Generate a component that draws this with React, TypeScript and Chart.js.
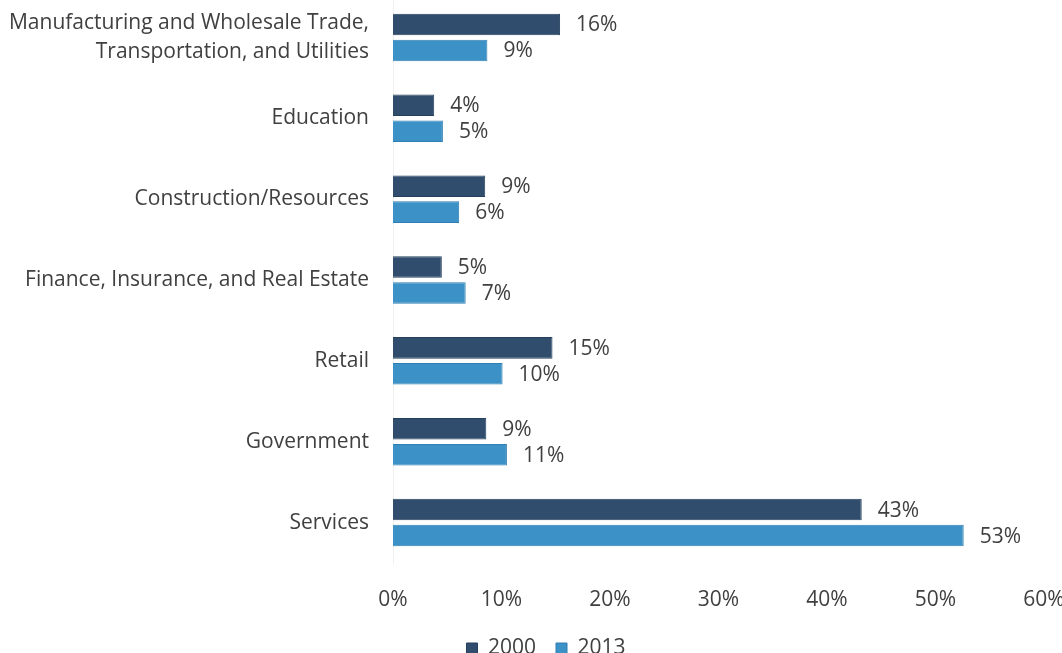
import React, { useEffect, useRef } from "react";
import { Chart, registerables } from "chart.js";

Chart.register(...registerables);

const categories: (string | string[])[] = [
  ["Manufacturing and Wholesale Trade,", "Transportation, and Utilities"],
  "Education",
  "Construction/Resources",
  "Finance, Insurance, and Real Estate",
  "Retail",
  "Government",
  "Services",
];
const seriesNames = ["2000", "2013"];
const values2000 = [15.4, 3.8, 8.5, 4.5, 14.7, 8.6, 43.2];
const values2013 = [8.7, 4.6, 6.1, 6.7, 10.1, 10.5, 52.6];
const labels2000 = ["16%", "4%", "9%", "5%", "15%", "9%", "43%"];
const labels2013 = ["9%", "5%", "6%", "7%", "10%", "11%", "53%"];
const xTicks = [0, 10, 20, 30, 40, 50, 60];

const FONT = "'Open Sans', 'Noto Sans', sans-serif";
const TEXT = "#404040";

export default function App() {
  const ref = useRef<HTMLCanvasElement>(null);
  useEffect(() => {
    const canvas = ref.current!;
    const labelSets = [labels2000, labels2013];
    const dataLabels = {
      id: "dataLabels",
      afterDatasetsDraw(chart: any) {
        const ctx = chart.ctx;
        ctx.save();
        ctx.font = `21px ${FONT}`;
        ctx.fillStyle = TEXT;
        ctx.textAlign = "left";
        ctx.textBaseline = "middle";
        chart.data.datasets.forEach((_: any, di: number) => {
          const meta = chart.getDatasetMeta(di);
          meta.data.forEach((bar: any, i: number) => {
            ctx.fillText(labelSets[di][i], bar.x + 16, bar.y + 1);
          });
        });
        ctx.restore();
      },
    };
    const legendShift = {
      id: "legendShift",
      afterLayout(chart: any) {
        if (chart.legend) {
          chart.legend.left += 24;
          chart.legend.right += 24;
        }
      },
    };
    const chart = new Chart(canvas, {
      type: "bar",
      data: {
        labels: categories,
        datasets: [
          {
            label: seriesNames[0],
            data: values2000,
            backgroundColor: "#304d6d",
            borderColor: "#25405d",
            borderWidth: 1,
            categoryPercentage: 0.642,
            barPercentage: 0.83,
          },
          {
            label: seriesNames[1],
            data: values2013,
            backgroundColor: "#3c91c6",
            borderColor: "#2f7fb2",
            borderWidth: 1,
            categoryPercentage: 0.642,
            barPercentage: 0.83,
          },
        ],
      },
      options: {
        indexAxis: "y",
        responsive: false,
        animation: false,
        devicePixelRatio: 1,
        layout: { padding: { left: 0, right: 18, top: 0, bottom: 0 } },
        plugins: {
          tooltip: { enabled: false },
          legend: {
            position: "bottom",
            labels: {
              boxWidth: 11,
              boxHeight: 11,
              padding: 20,
              color: TEXT,
              font: { family: FONT, size: 21 },
            },
          },
        },
        scales: {
          x: {
            min: 0,
            max: 60,
            afterFit(scale: any) {
              scale.height = 55;
              scale.paddingLeft = 0;
              scale.paddingRight = 0;
            },
            afterBuildTicks(scale: any) {
              scale.ticks = xTicks.map((v) => ({ value: v }));
            },
            grid: { display: false, drawTicks: false },
            border: { display: false },
            ticks: {
              padding: 24,
              color: TEXT,
              font: { family: FONT, size: 21 },
              callback: (v: any) => `${v}%`,
            },
          },
          y: {
            afterFit(scale: any) {
              scale.width = 393;
              scale.paddingTop = 0;
              scale.paddingBottom = 0;
            },
            grid: { display: false, drawTicks: false },
            border: { display: true, color: "#f0f0f0" },
            ticks: {
              padding: 24,
              color: TEXT,
              font: { family: FONT, size: 21, lineHeight: 1.35 },
            },
          },
        },
      },
      plugins: [dataLabels, legendShift],
    });
    return () => chart.destroy();
  }, []);
  return (
    <div style={{ position: "absolute", left: 0, top: -3, width: 1062, height: 672 }}>
      <canvas ref={ref} width={1062} height={672} style={{ display: "block" }} />
    </div>
  );
}
